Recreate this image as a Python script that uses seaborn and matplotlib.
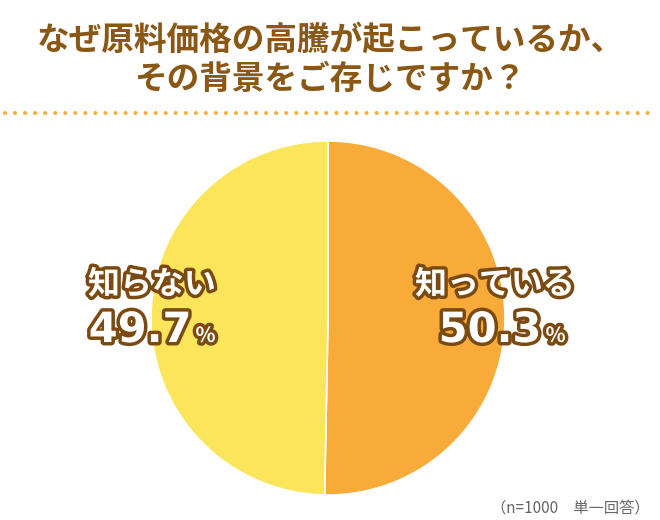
import matplotlib.pyplot as plt
import matplotlib.patheffects as pe
from matplotlib.lines import Line2D
import seaborn as sns

# data
labels = ["知っている", "知らない"]
values = [50.3, 49.7]
colors = ["#F9AB3A", "#FBE55A"]

title = "なぜ原料価格の高騰が起こっているか、\nその背景をご存じですか？"
note = "（n=1000　単一回答）"

brown = "#8A5714"

sns.set_theme(style="white")
plt.rcParams["font.family"] = ["Noto Sans CJK JP", "DejaVu Sans"]

W, H = 660, 520
fig = plt.figure(figsize=(W / 100, H / 100), dpi=100)
fig.patch.set_facecolor("white")

# pie axes: centre (328, 318) px, radius 177 px
cx, cy, r = 328, 318, 177
ax = fig.add_axes([(cx - r) / W, (H - cy - r) / H, 2 * r / W, 2 * r / H])
ax.pie(values, colors=colors, startangle=90, counterclock=False,
       wedgeprops=dict(edgecolor="white", linewidth=1.2))
ax.set_xlim(-1, 1)
ax.set_ylim(-1, 1)
ax.set_aspect("equal")
ax.axis("off")

fig.text(0.5, 1 - 60 / H, title, ha="center", va="center",
         fontsize=23.5, fontweight="bold", color=brown, linespacing=1.25)

# dotted rule under the title
fig.add_artist(Line2D([5 / W, 655 / W], [1 - 113 / H] * 2, transform=fig.transFigure,
                      color="#F5B041", linewidth=3,
                      linestyle=(0, (0.01, 2.4)), dash_capstyle="round"))

outline = [pe.withStroke(linewidth=5, foreground="#7A4A10")]

label_pos = {"知っている": (495, 285, 490, 330), "知らない": (152, 285, 140, 330)}
for lab, val in zip(labels, values):
    lx, ly, nx, ny = label_pos[lab]
    fig.text(lx / W, 1 - ly / H, lab, ha="center", va="center", fontsize=23,
             fontweight="bold", color="white", path_effects=outline)
    num = fig.text(nx / W, 1 - ny / H, f"{val:.1f}", ha="center", va="center",
                   fontsize=30, fontweight="bold", color="white", path_effects=outline,
                   family=["DejaVu Sans"])
    ax.annotate("%", xy=(1, 0.12), xycoords=num, xytext=(3, 0),
                textcoords="offset points", ha="left", va="bottom",
                fontsize=15, fontweight="bold", color="white",
                path_effects=outline, annotation_clip=False)

fig.text(650 / W, 1 - 508 / H, note, ha="right", va="center", fontsize=11,
         color="#666666")

fig.savefig("out.png", dpi=100)
